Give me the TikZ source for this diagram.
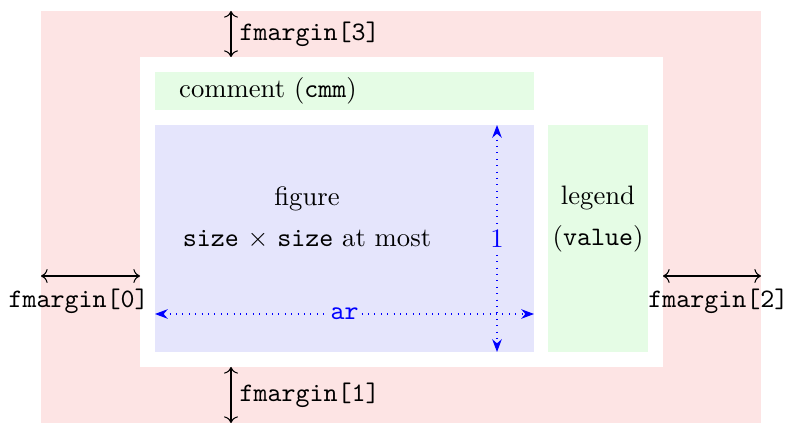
\documentclass[tikz,border=0pt]{standalone}
\usetikzlibrary{arrows.meta,positioning,calc}
\definecolor{marginpink}{RGB}{253,228,228}
\definecolor{figblue}{RGB}{229,229,252}
\definecolor{boxgreen}{RGB}{229,252,229}
\tikzset{dimarrow/.style={{To}-{To},thin,black},
  axisarrow/.style={{Stealth}-{Stealth},thin,blue,dotted},
  dimlabel/.style={font=\ttfamily,inner sep=3pt},
  axislabel/.style={fill=figblue,inner sep=0.5pt,text=blue},
  boxtext/.style={align=center,inner sep=1pt}}
\begin{document}
\begin{tikzpicture}[x=0.375pt,y=-0.375pt]
\useasboundingbox (0,0) rectangle (789,423);
% page, margins and boxes
\fill[marginpink] (41,11) rectangle (761,423);
\fill[white] (140,57) rectangle (663,367);
\fill[boxgreen] (155,72) rectangle (534,110);
\fill[figblue] (155,125) rectangle (534,352);
\fill[boxgreen] (548,125) rectangle (648,352);
% end points of the arrows
\coordinate (topa) at (231,11);
\coordinate (topb) at (231,57);
\coordinate (bota) at (231,367);
\coordinate (botb) at (231,423);
\coordinate (lefta) at (41,276);
\coordinate (leftb) at (140,276);
\coordinate (righta) at (663,276);
\coordinate (rightb) at (761,276);
\coordinate (ara) at (155,314);
\coordinate (arb) at (534,314);
\coordinate (onea) at (497,125);
\coordinate (oneb) at (497,352);
% texts
\node[boxtext] (cmm) at (268,91) {comment (\texttt{cmm})};
\node[boxtext] (fig) at (307,199) {figure};
\node[boxtext] (figsize) at (307,239) {\texttt{size} $\times$ \texttt{size} at most};
\node[boxtext] (leg) at (598,198) {legend};
\node[boxtext] (legval) at (598,239) {(\texttt{value})};
% margins
\draw[dimarrow] (topa) -- (topb) node[midway,right,dimlabel] (fm3) {fmargin[3]};
\draw[dimarrow] (bota) -- (botb) node[midway,right,dimlabel] (fm1) {fmargin[1]};
\draw[dimarrow] (lefta) -- (leftb) node[midway,below,dimlabel,inner sep=4.5pt,xshift=-4.5pt] (fm0) {fmargin[0]};
\draw[dimarrow] (righta) -- (rightb) node[midway,below,dimlabel,inner sep=4.5pt,xshift=2.4pt] (fm2) {fmargin[2]};
% aspect ratio
\draw[axisarrow] (ara) -- (arb) node[midway,axislabel,font=\ttfamily] (ar) {ar};
\draw[axisarrow] (onea) -- (oneb) node[midway,axislabel] (one) {1};
\end{tikzpicture}
\end{document}
